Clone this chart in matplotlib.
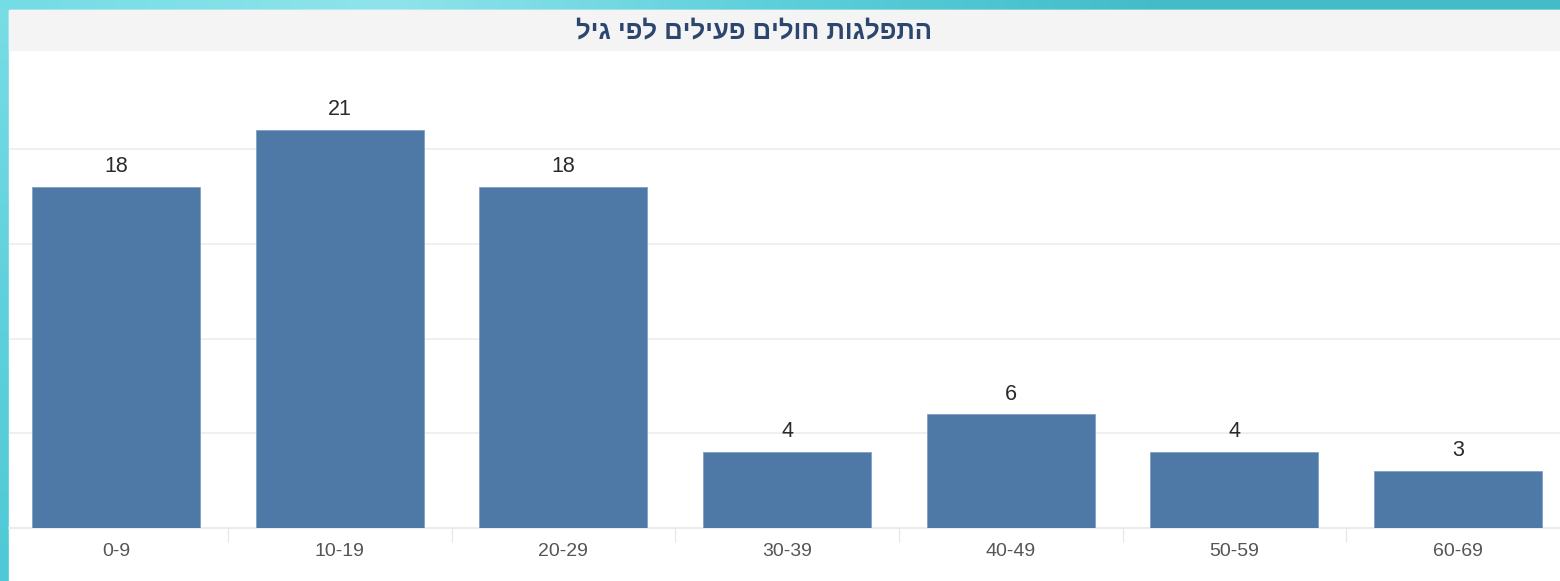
import matplotlib.pyplot as plt
import numpy as np
from matplotlib.colors import LinearSegmentedColormap
from matplotlib.patches import Rectangle

title = 'התפלגות חולים פעילים לפי גיל'
age_groups = ['0-9', '10-19', '20-29', '30-39', '40-49', '50-59', '60-69']
patients = [18, 21, 18, 4, 6, 4, 3]

W, H = 1560, 581
fig = plt.figure(figsize=(W/100, H/100), dpi=100)
fonts = ['Liberation Sans', 'DejaVu Sans']

# teal frame behind the white panel
bg = fig.add_axes([0, 0, 1, 1])
bg.set_xlim(0, W)
bg.set_ylim(H, 0)
bg.axis('off')
frame_cmap = LinearSegmentedColormap.from_list('frame', ['#74DCE4', '#8FE4EB', '#5CCFDA', '#42BCC9', '#42BCC9'])
bg.imshow(np.linspace(0, 1, 256)[None, :], cmap=frame_cmap, aspect='auto', extent=(0, W, 10, 0))
left_cmap = LinearSegmentedColormap.from_list('left', ['#78DDE5', '#5FD1DC', '#4FC9D6'])
bg.imshow(np.linspace(0, 1, 256)[:, None], cmap=left_cmap, aspect='auto', extent=(0, 9, H, 10))
bg.add_patch(Rectangle((9, 10), W - 9, H - 10, color='white'))
bg.add_patch(Rectangle((9, 10), W - 9, 40, color='#F4F4F4'))
# matplotlib has no bidi support: reverse so Hebrew reads right-to-left
bg.text(754, 31, title[::-1], ha='center', va='center', fontsize=18.5, fontweight='bold',
        color='#2C4670', family=fonts)

ax = fig.add_axes([9/W, (H - 528)/H, (W - 9)/W, 478/H])
ax.patch.set_alpha(0)
x = np.arange(len(age_groups))
bars = ax.bar(x, patients, width=0.75, color='#4E79A7', edgecolor='#7FA0C4', linewidth=0.6, zorder=3)

px_per_unit = 223.67
ax.set_xlim(-107/px_per_unit, (W - 116)/px_per_unit)
ax.set_ylim(0, 478/18.95)

ax.set_yticks([5, 10, 15, 20])
ax.yaxis.grid(True, color='#EEEEEE', linewidth=1.2, zorder=0)
ax.tick_params(axis='y', length=0, labelleft=False)

ax.set_xticks(x)
ax.set_xticklabels(age_groups, fontsize=14, color='#555555', family=fonts)
ax.tick_params(axis='x', which='major', length=0, pad=11)
ax.set_xticks(x[:-1] + 0.5, minor=True)
ax.tick_params(axis='x', which='minor', length=10, width=1, color='#E8E8E8')

for side in ['top', 'left', 'right']:
    ax.spines[side].set_visible(False)
ax.spines['bottom'].set_color('#E8E8E8')
ax.spines['bottom'].set_linewidth(1.2)

for bar, value in zip(bars, patients):
    ax.annotate(str(value), (bar.get_x() + bar.get_width()/2, value), xytext=(0, 7),
                textcoords='offset points', ha='center', va='bottom', fontsize=15.5,
                color='#2A2A2A', family=fonts)

fig.savefig('out.png', dpi=100)
